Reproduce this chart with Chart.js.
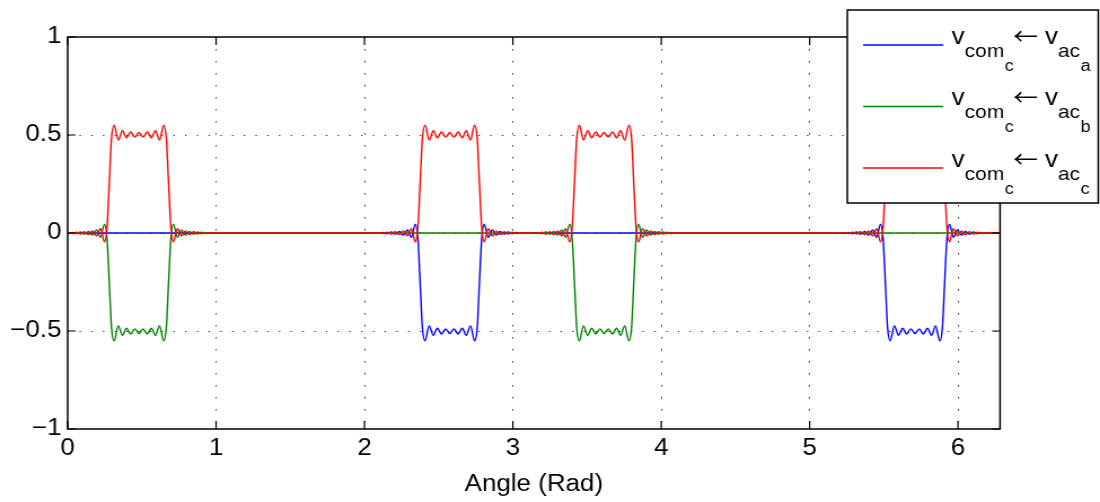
<!DOCTYPE html>
<html>
<head>
<meta charset="utf-8">
<script src="https://cdn.jsdelivr.net/npm/chart.js@4/dist/chart.umd.min.js"></script>
<style>
  html, body { margin: 0; padding: 0; background: #fff; overflow: hidden; }
</style>
</head>
<body>
<canvas id="plot" width="975" height="502" style="display:block;width:1100px;height:502px"></canvas>
<script>
// Axis ticks
const angleTicks = [0, 1, 2, 3, 4, 5, 6];
const angleTickLabels = ['0', '1', '2', '3', '4', '5', '6'];
const voltTicks = [-1, -0.5, 0, 0.5, 1];
const voltTickLabels = ['\u22121', '\u22120.5', '0', '0.5', '1'];
const angleMax = 6.2832;

// Centres (rad) of the four conduction pulses and each phase's polarity in them
const pulseCentres = [0.48, 2.575, 3.615, 5.71];
const polarityA = [0, -1, 0, -1];
const polarityB = [-1, 0, -1, 0];
const polarityC = [1, 1, 1, 1];

// One positive pulse about its centre: offset (rad) and level, ripple included
const pulseOffsets = [-0.50, -0.475, -0.448, -0.421, -0.394, -0.367, -0.340, -0.313, -0.286, -0.259,
  -0.232, -0.215, -0.200, -0.185, -0.167, -0.139, -0.111, -0.084, -0.056, -0.028, 0,
  0.028, 0.056, 0.084, 0.111, 0.139, 0.167, 0.185, 0.200, 0.215, 0.232,
  0.259, 0.286, 0.313, 0.340, 0.367, 0.394, 0.421, 0.448, 0.475, 0.50];
const pulseLevels = [0, 0.002, -0.003, 0.004, -0.005, 0.006, -0.008, 0.011, -0.015, 0.022,
  -0.045, 0.03, 0.25, 0.48, 0.55, 0.474, 0.522, 0.486, 0.515, 0.489, 0.513,
  0.489, 0.515, 0.486, 0.522, 0.474, 0.55, 0.48, 0.25, 0.03, -0.045,
  0.022, -0.015, 0.011, -0.008, 0.006, -0.005, 0.004, -0.003, 0.002, 0];

// Legend: phase tag of each source voltage
const phaseTags = ['a', 'b', 'c'];
const seriesColours = ['#0000ff', '#008000', '#ff0000'];

function buildSeries(polarity) {
  const pts = [{ x: 0, y: 0 }];
  polarity.forEach((p, i) => {
    if (!p) return;
    pulseOffsets.forEach((o, j) => {
      const x = pulseCentres[i] + o;
      if (x > 0 && x < angleMax) pts.push({ x: x, y: p * pulseLevels[j] });
    });
  });
  pts.push({ x: angleMax, y: 0 });
  return pts;
}

const FONT = '"Liberation Sans", Arial, Helvetica, sans-serif';

// Boxed axes with inward ticks, then the legend on top
const framePlugin = {
  id: 'frame',
  afterDatasetsDraw(chart) {
    const { ctx, chartArea: a, scales } = chart;
    ctx.save();
    ctx.strokeStyle = '#000';
    ctx.lineWidth = 1.5;
    ctx.strokeRect(a.left, a.top, a.right - a.left, a.bottom - a.top);
    ctx.lineWidth = 1.2;
    ctx.beginPath();
    angleTicks.forEach(v => {
      const px = scales.x.getPixelForValue(v);
      ctx.moveTo(px, a.bottom); ctx.lineTo(px, a.bottom - 8);
      ctx.moveTo(px, a.top); ctx.lineTo(px, a.top + 8);
    });
    voltTicks.forEach(v => {
      const py = scales.y.getPixelForValue(v);
      ctx.moveTo(a.left, py); ctx.lineTo(a.left + 7, py);
      ctx.moveTo(a.right, py); ctx.lineTo(a.right - 7, py);
    });
    ctx.stroke();
    ctx.restore();
  },
  afterDraw(chart) {
    const ctx = chart.ctx;
    const bx = 751, by = 10, bw = 222.5, bh = 193;
    ctx.save();
    ctx.fillStyle = '#fff';
    ctx.fillRect(bx, by, bw, bh);
    ctx.strokeStyle = '#000';
    ctx.lineWidth = 1.5;
    ctx.strokeRect(bx, by, bw, bh);
    ctx.fillStyle = '#000';
    ctx.textAlign = 'left';
    ctx.textBaseline = 'alphabetic';
    phaseTags.forEach((tag, i) => {
      const ly = 45 + i * 61.5;
      ctx.strokeStyle = seriesColours[i];
      ctx.lineWidth = 1.3;
      ctx.beginPath();
      ctx.moveTo(765, ly); ctx.lineTo(836, ly);
      ctx.stroke();

      const main = ly - 1.5, sub = ly + 11.7, subsub = ly + 25.5;
      let x = 843.6;
      ctx.font = '23px ' + FONT;
      ctx.fillText('v', x, main);
      x += ctx.measureText('v').width;
      ctx.font = '18.5px ' + FONT;
      ctx.fillText('com', x, sub);
      x += ctx.measureText('com').width + 0.5;
      ctx.font = '16px ' + FONT;
      ctx.fillText('c', x, subsub);

      ctx.font = '22px "Noto Sans CJK SC", "DejaVu Sans", sans-serif';
      ctx.fillText('\u2190', 898, main);
      x = 926.3;
      ctx.font = '23px ' + FONT;
      ctx.fillText('v', x, main);
      x += ctx.measureText('v').width;
      ctx.font = '18.5px ' + FONT;
      ctx.fillText('ac', x, sub);
      x += ctx.measureText('ac').width + 0.5;
      ctx.font = '16px ' + FONT;
      ctx.fillText(tag, x, subsub);
    });
    ctx.restore();
  }
};

const dotColour = 'rgba(0,0,0,0.8)';

new Chart(document.getElementById('plot'), {
  type: 'line',
  data: {
    datasets: [
      { data: buildSeries(polarityA), borderColor: seriesColours[0], order: 3 },
      { data: buildSeries(polarityB), borderColor: seriesColours[1], order: 2 },
      { data: buildSeries(polarityC), borderColor: seriesColours[2], order: 1 }
    ]
  },
  options: {
    responsive: false,
    animation: false,
    devicePixelRatio: 1,
    layout: { padding: { left: 0, top: 37, right: 88.6, bottom: 0 } },
    elements: {
      line: { borderWidth: 1.4, cubicInterpolationMode: 'monotone', fill: false },
      point: { radius: 0, hoverRadius: 0 }
    },
    plugins: { legend: { display: false }, tooltip: { enabled: false } },
    events: [],
    scales: {
      x: {
        type: 'linear',
        min: 0,
        max: angleMax,
        afterBuildTicks: s => { s.ticks = angleTicks.map(v => ({ value: v })); },
        afterFit: s => { s.height = 73; },
        border: { display: false, dash: [1.5, 10.5] },
        grid: {
          drawTicks: false,
          lineWidth: 1,
          color: c => (c.tick && c.tick.value > 0) ? dotColour : 'rgba(0,0,0,0)'
        },
        ticks: {
          autoSkip: false,
          maxRotation: 0,
          padding: 6,
          color: '#000',
          font: { family: FONT, size: 23 },
          callback: v => angleTickLabels[angleTicks.indexOf(v)]
        },
        title: {
          display: true,
          text: 'Angle (Rad)',
          color: '#000',
          font: { family: FONT, size: 23 },
          padding: { top: 0, bottom: 4 }
        }
      },
      y: {
        min: -1,
        max: 1,
        afterBuildTicks: s => { s.ticks = voltTicks.map(v => ({ value: v })); },
        afterFit: s => { s.width = 60; },
        border: { display: false, dash: [1.3, 9.1] },
        grid: {
          drawTicks: false,
          lineWidth: 1,
          color: c => (c.tick && Math.abs(c.tick.value) < 1) ? dotColour : 'rgba(0,0,0,0)'
        },
        ticks: {
          autoSkip: false,
          padding: 5.5,
          color: '#000',
          font: { family: FONT, size: 23 },
          callback: v => voltTickLabels[voltTicks.indexOf(v)]
        }
      }
    }
  },
  plugins: [framePlugin]
});
</script>
</body>
</html>
